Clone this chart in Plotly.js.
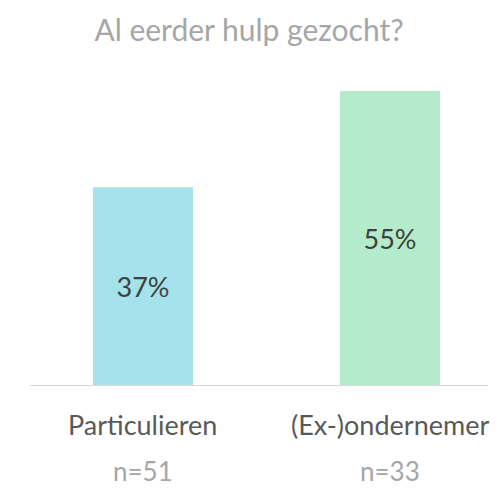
<!DOCTYPE html>
<html>
<head>
<meta charset="utf-8">
<script src="https://cdn.plot.ly/plotly-3.0.1.min.js"></script>
<style>html,body{margin:0;padding:0;background:#fff;}#chart{width:498px;height:490px;}</style>
</head>
<body>
<div id="chart"></div>
<script>
const categories = ["Particulieren", "(Ex-)ondernemer"];
const values = [37, 55];
const valueLabels = ["37%", "55%"];
const nLabels = ["n=51", "n=33"];
const barColors = ["#A5E2EB", "#B3EBCB"];

const FONT = "Lato, sans-serif";

const trace = {
  type: "bar",
  x: categories,
  y: values,
  text: valueLabels,
  textposition: "inside",
  insidetextanchor: "middle",
  textangle: 0,
  textfont: {family: FONT, size: 27, color: "#404040"},
  marker: {color: barColors},
  width: 0.405,
  hoverinfo: "none"
};

const annotations = [];
categories.forEach((c, i) => {
  annotations.push({x: c, xref: "x", y: -0.123, yref: "paper", yanchor: "middle",
    text: c, showarrow: false, font: {family: FONT, size: 27, color: "#595959"}});
  annotations.push({x: c, xref: "x", y: -0.265, yref: "paper", yanchor: "middle",
    text: nLabels[i], showarrow: false, font: {family: FONT, size: 26, color: "#A6A6A6"}});
});

const layout = {
  width: 498, height: 490,
  margin: {l: 30, r: 10, t: 60, b: 105},
  paper_bgcolor: "#fff", plot_bgcolor: "#fff",
  title: {text: "Al eerder hulp gezocht?", x: 249/498, xref: "container", xanchor: "center",
          y: 1 - 30/490, yref: "container", yanchor: "middle",
          font: {family: FONT, size: 30, color: "#A6A6A6"}},
  xaxis: {type: "category", range: [-0.4575, 1.397], showline: true, linecolor: "#D9D9D9",
          linewidth: 1, showticklabels: false, ticks: "", showgrid: false, zeroline: false, fixedrange: true},
  yaxis: {range: [0, 60.8], visible: false, showgrid: false, zeroline: false, fixedrange: true},
  showlegend: false,
  annotations: annotations
};

Plotly.newPlot("chart", [trace], layout, {displayModeBar: false, staticPlot: true});
</script>
</body>
</html>
